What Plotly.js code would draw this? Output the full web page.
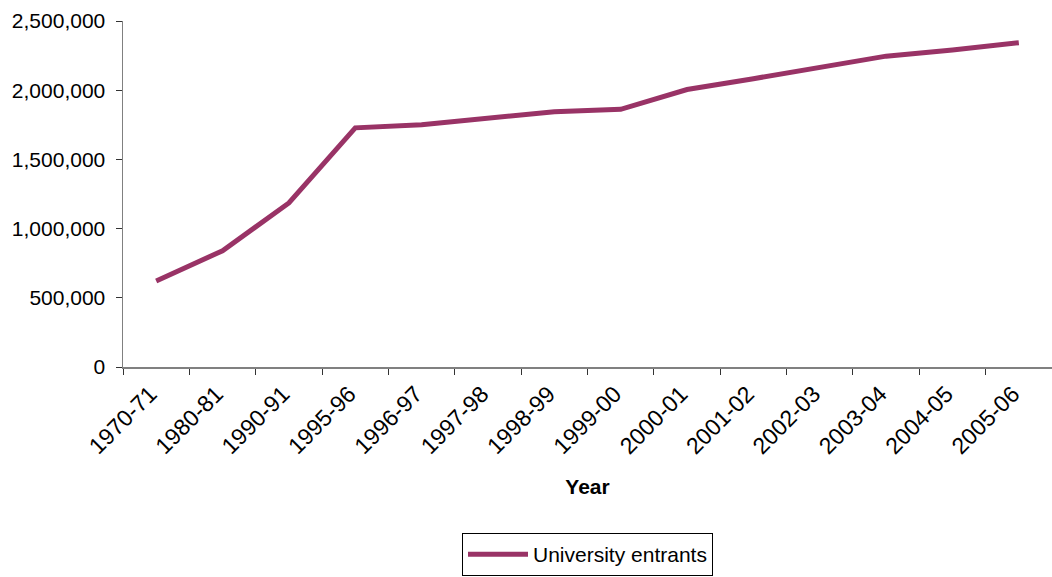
<!DOCTYPE html>
<html>
<head>
<meta charset="utf-8">
<script src="https://cdn.plot.ly/plotly-3.0.1.min.js"></script>
<style>
  html, body { margin: 0; padding: 0; background: #ffffff; }
  #chart { width: 1052px; height: 577px; }
</style>
</head>
<body>
<div id="chart"></div>
<script>
// Academic years on the category axis
const years = [
  "1970-71", "1980-81", "1990-91", "1995-96", "1996-97", "1997-98", "1998-99",
  "1999-00", "2000-01", "2001-02", "2002-03", "2003-04", "2004-05", "2005-06"
];

// Number of university entrants per year
const entrants = [
  622000, 840000, 1185000, 1728000, 1750000, 1797000, 1845000,
  1862000, 2005000, 2083000, 2163000, 2246000, 2290000, 2343000
];

const seriesName = "University entrants";
const lineColor = "#993366";
const fontFamily = "'Liberation Sans', Arial, sans-serif";

const traces = [{
  type: "scatter",
  mode: "lines",
  x: years,
  y: entrants,
  name: seriesName,
  line: { color: lineColor, width: 5 },
  showlegend: true
}];

const layout = {
  width: 1052,
  height: 577,
  margin: { l: 123, r: 0, t: 21, b: 210, autoexpand: false },
  paper_bgcolor: "#ffffff",
  plot_bgcolor: "#ffffff",
  font: { family: fontFamily, size: 21, color: "#000000" },
  showlegend: true,
  xaxis: {
    type: "category",
    range: [-0.5, years.length - 0.5],
    tickson: "boundaries",
    ticks: "outside",
    ticklen: 6,
    tickcolor: "#333333",
    tickangle: -45,
    ticklabelshift: -6,
    ticklabelstandoff: 3,
    showline: true,
    linecolor: "#808080",
    linewidth: 1.5,
    showgrid: false,
    zeroline: false,
    automargin: false,
    tickfont: { family: fontFamily, size: 23, color: "#000000" },
    title: {
      text: "<b>Year</b>",
      font: { family: fontFamily, size: 21, color: "#000000" },
      standoff: 21
    }
  },
  yaxis: {
    range: [0, 2500000],
    dtick: 500000,
    tick0: 0,
    tickformat: ",d",
    ticks: "outside",
    ticklen: 6,
    tickcolor: "#333333",
    ticklabelstandoff: 6,
    showline: true,
    linecolor: "#808080",
    linewidth: 1.5,
    showgrid: false,
    zeroline: false,
    automargin: false,
    tickfont: { family: fontFamily, size: 21, color: "#000000" }
  },
  legend: {
    orientation: "h",
    x: 0.5,
    xanchor: "center",
    y: -0.48,
    yanchor: "top",
    itemwidth: 60,
    bordercolor: "#000000",
    borderwidth: 1,
    bgcolor: "#ffffff",
    font: { family: fontFamily, size: 21, color: "#000000" }
  }
};

Plotly.newPlot("chart", traces, layout, { staticPlot: true, displayModeBar: false });
</script>
</body>
</html>
